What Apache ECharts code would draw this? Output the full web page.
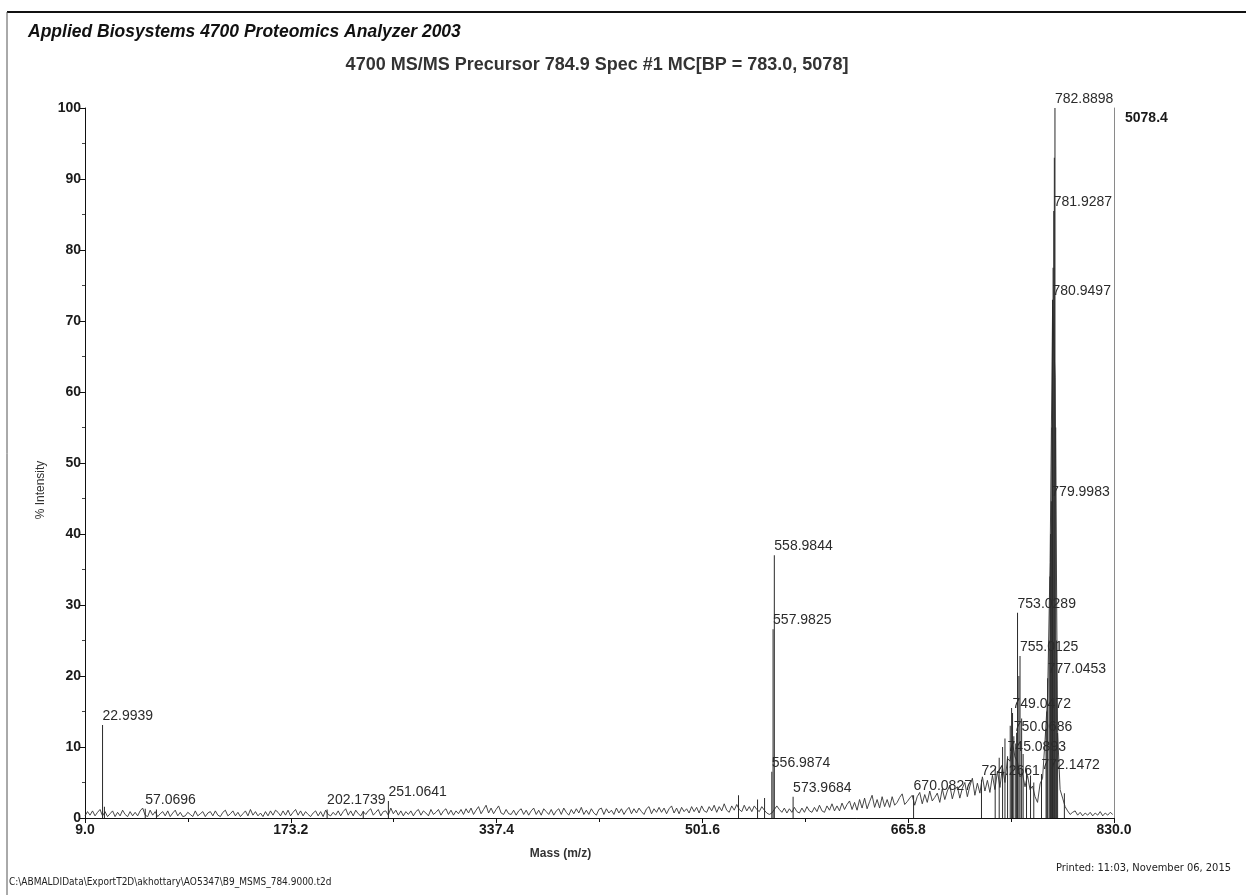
<!DOCTYPE html>
<html>
<head>
<meta charset="utf-8">
<title>4700 MS/MS Precursor 784.9</title>
<script src="https://cdn.jsdelivr.net/npm/echarts@6/dist/echarts.min.js"></script>
<style>
  html, body { margin: 0; padding: 0; background: #fff; }
  #chart { width: 1246px; height: 895px; }
</style>
</head>
<body>
<div id="chart"></div>
<script>
// Labelled peaks: m/z and % intensity
const peakMz  = [22.9939, 57.0696, 202.1739, 251.0641, 556.9874, 557.9825, 558.9844, 573.9684,
                 670.0827, 724.2661, 745.0893, 749.0472, 750.0686, 753.0289, 755.0125, 772.1472,
                 777.0453, 779.9983, 780.9497, 781.9287, 782.8898];
const peakPct = [13.1, 1.3, 1.2, 2.4, 6.5, 26.6, 37.0, 3.0,
                 3.2, 5.4, 8.7, 14.8, 11.5, 28.9, 22.8, 6.2,
                 19.7, 44.6, 73.0, 85.5, 100.0];

// Unlabelled sticks around the precursor cluster
const minorMz  = [24.5, 66.0, 231.0, 530.4, 545.6, 551.2, 735.2, 738.4, 741.1, 743.0, 747.2, 748.3,
                  751.6, 752.3, 754.1, 756.3, 757.5, 760.2, 763.4, 766.0, 775.8, 776.4, 778.2,
                  778.9, 779.4, 780.4, 781.4, 782.4, 783.5, 784.2, 785.0, 790.4];
const minorPct = [1.6, 1.2, 1.0, 3.2, 2.6, 2.8, 7.0, 8.5, 10.0, 11.2, 13.0, 15.5,
                  10.5, 12.0, 20.0, 14.0, 9.0, 7.0, 6.0, 5.0, 12.5, 15.0, 25.0,
                  34.0, 40.0, 55.0, 77.5, 93.0, 55.0, 25.0, 12.0, 3.5];

// Continuous trace: % intensity sampled every 2 m/z from 9
const traceStart = 9;
const traceStep = 2;
const tracePct = [
  0.3,0.9,0.4,1.0,0.3,0.8,1.2,0.3,0.9,0.2,
  0.6,1.0,0.2,0.8,0.3,1.1,0.5,0.2,0.9,0.3,
  0.8,0.3,1.0,1.4,0.4,0.2,1.1,0.4,0.9,0.2,
  0.6,0.9,0.3,1.0,0.2,0.7,1.1,0.3,0.8,0.2,
  0.3,0.8,0.5,0.2,1.0,0.3,0.6,0.9,0.2,0.7,
  0.9,0.3,1.0,0.4,0.2,0.8,1.1,0.3,0.6,1.0,
  0.3,0.8,0.2,0.6,1.0,0.3,1.2,0.4,0.9,0.3,
  0.7,0.2,0.9,0.3,1.0,0.4,1.1,0.8,0.3,1.0,
  0.4,1.1,0.3,0.8,1.2,0.4,1.0,0.3,0.9,0.5,
  0.2,0.7,1.0,0.3,0.9,0.2,1.1,0.5,0.3,0.8,
  0.4,1.0,0.3,0.9,1.3,0.4,1.0,0.3,1.1,0.6,
  0.3,0.9,0.5,1.0,1.3,0.4,0.8,1.2,0.3,0.9,
  1.0,0.4,1.4,0.6,1.1,0.4,1.0,0.3,0.9,0.5,
  1.0,0.3,0.9,1.2,0.4,1.0,0.7,0.3,1.2,0.5,
  0.8,1.2,0.4,1.0,1.3,0.5,1.1,0.4,1.0,0.6,
  1.2,0.5,1.3,0.7,1.4,0.5,1.1,1.6,0.6,1.2,
  1.8,0.7,1.4,0.6,1.2,1.7,0.7,0.5,1.2,0.6,
  0.5,1.1,0.4,1.0,1.3,0.5,1.1,0.4,1.0,1.4,
  0.5,1.1,0.4,1.3,0.9,0.5,1.2,0.4,1.0,1.3,
  0.5,1.4,0.8,0.4,1.2,0.6,1.3,0.7,1.5,0.5,
  1.1,0.5,1.3,0.7,0.4,1.2,1.4,0.5,1.3,0.7,
  1.1,0.5,1.4,0.7,1.3,0.5,1.1,1.5,0.6,1.3,
  0.7,1.4,0.9,0.5,1.3,1.6,0.6,1.3,0.8,1.5,
  0.8,1.4,0.6,1.3,1.7,0.7,1.4,0.6,1.5,0.9,
  1.3,0.7,1.6,0.9,1.5,0.7,1.7,1.0,0.8,1.6,
  1.0,1.8,0.8,1.6,1.0,2.0,1.1,0.8,1.7,1.1,
  1.9,1.2,0.9,1.8,1.0,1.6,0.9,1.7,1.2,0.9,
  1.6,1.1,0.7,0.5,0.7,1.2,1.7,1.2,0.8,1.4,
  0.7,1.3,0.8,1.5,0.9,0.7,1.4,0.8,1.6,1.0,
  0.8,1.5,0.9,1.8,1.0,0.8,1.7,1.1,2.0,1.0,
  1.7,1.0,2.1,1.2,1.9,2.4,1.2,2.2,1.1,2.6,
  1.4,2.8,1.3,2.3,3.2,1.5,2.6,1.4,3.0,1.6,
  2.6,1.5,3.0,1.8,2.2,2.9,3.4,1.9,2.3,2.8,
  3.2,1.8,3.0,3.6,2.0,3.3,2.2,3.8,2.4,2.9,
  3.5,2.2,4.1,2.6,3.8,4.6,2.7,4.0,4.4,2.8,
  4.2,5.0,3.0,4.5,5.6,3.2,4.9,3.5,5.8,3.8,
  5.3,3.6,6.0,4.0,6.6,4.3,7.2,5.0,8.4,8.0,
  10.5,8.6,7.9,5.8,6.2,4.4,6.0,4.0,4.5,3.0,
  2.2,4.8,5.6,11.0,17.0,36.0,72.0,62.0,12.0,4.0,
  2.8,1.6,1.0,0.5,0.8,1.0,0.4,0.8,0.3,0.7,
  0.4,0.8,0.3,0.7,0.4,0.9,0.3,0.7,0.4,0.8,
  0.5
];

const massMin = 9.0;
const massMax = 830.0;
const massTickStep = 164.2;
const basePeakCounts = 5078.4;

const chart = echarts.init(document.getElementById('chart'), null, { renderer: 'canvas' });

const FONT = '"Liberation Sans", Arial, Helvetica, sans-serif';
const NARROW = '"Liberation Sans Narrow", "DejaVu Sans Condensed", "Liberation Sans", sans-serif';
const INK = '#1a1a1a';

const traceData = tracePct.map((v, i) => [traceStart + i * traceStep, v]);

const stickData = [];
minorMz.forEach((mz, i) => stickData.push({ value: [mz, minorPct[i]] }));
peakMz.forEach((mz, i) => stickData.push({
  value: [mz, peakPct[i]],
  label: { show: true }
}));

chart.setOption({
  animation: false,
  backgroundColor: '#ffffff',
  grid: { left: 85, right: 132, top: 108, bottom: 77, containLabel: false },
  xAxis: {
    type: 'value',
    min: massMin,
    max: massMax,
    interval: massTickStep,
    name: 'Mass (m/z)',
    nameLocation: 'middle',
    nameGap: 30,
    nameTextStyle: { fontFamily: FONT, fontSize: 12, fontWeight: 'bold', color: '#333', padding: [0, 78, 0, 0] },
    axisLine: { show: true, onZero: false, lineStyle: { color: '#111', width: 1 } },
    axisTick: { show: true, inside: false, length: 5, lineStyle: { color: '#111' } },
    minorTick: { show: true, splitNumber: 2, length: 4, lineStyle: { color: '#111' } },
    splitLine: { show: false },
    axisLabel: {
      fontFamily: FONT, fontSize: 14, fontWeight: 'bold', color: INK, margin: 5,
      showMinLabel: true, showMaxLabel: true,
      formatter: v => v.toFixed(1)
    }
  },
  yAxis: [
    {
      type: 'value',
      min: 0,
      max: 100,
      interval: 10,
      name: '% Intensity',
      nameLocation: 'middle',
      nameGap: 30,
      nameRotate: 90,
      nameTextStyle: { fontFamily: FONT, fontSize: 12, color: '#333', padding: [0, 54, 0, 0] },
      axisLine: { show: true, lineStyle: { color: '#111', width: 1 } },
      axisTick: { show: true, length: 5, lineStyle: { color: '#111' } },
      minorTick: { show: true, splitNumber: 2, length: 3, lineStyle: { color: '#444' } },
      splitLine: { show: false },
      axisLabel: { fontFamily: FONT, fontSize: 14, fontWeight: 'bold', color: INK, margin: 4 }
    },
    {
      type: 'value',
      position: 'right',
      min: 0,
      max: basePeakCounts,
      interval: basePeakCounts,
      axisLine: { show: true, lineStyle: { color: '#8a8a8a', width: 1 } },
      axisTick: { show: false },
      splitLine: { show: false },
      axisLabel: {
        fontFamily: FONT, fontSize: 14, fontWeight: 'bold', color: INK, margin: 11,
        verticalAlign: 'top', padding: [3, 0, 0, 0],
        formatter: v => (v === basePeakCounts ? basePeakCounts.toFixed(1) : '')
      }
    }
  ],
  series: [
    {
      name: 'trace',
      type: 'line',
      data: traceData,
      showSymbol: false,
      symbol: 'none',
      lineStyle: { color: '#333', width: 0.9 },
      z: 2
    },
    {
      name: 'peaks',
      type: 'bar',
      data: stickData,
      barWidth: 1,
      itemStyle: { color: '#2a2a2a' },
      label: {
        show: false,
        position: 'top',
        align: 'left',
        distance: 2,
        fontFamily: FONT,
        fontSize: 14,
        color: '#2b2b2b',
        formatter: p => p.value[0].toFixed(4)
      },
      z: 3
    }
  ],
  graphic: [
    { type: 'line', shape: { x1: 7, y1: 12, x2: 1246, y2: 12 }, style: { stroke: '#111', lineWidth: 2 } },
    { type: 'line', shape: { x1: 7, y1: 12, x2: 7, y2: 895 }, style: { stroke: '#555', lineWidth: 1 } },
    {
      type: 'text', left: 28, top: 23,
      style: { text: 'Applied Biosystems 4700 Proteomics Analyzer 2003', fontFamily: FONT,
               fontSize: 17.5, fontWeight: 'bold', fontStyle: 'italic', fill: '#111' }
    },
    {
      type: 'text', x: 597, y: 65,
      style: { text: '4700 MS/MS Precursor 784.9 Spec #1 MC[BP = 783.0, 5078]', fontFamily: FONT,
               fontSize: 18, fontWeight: 'bold', fill: '#333', align: 'center', verticalAlign: 'middle' }
    },
    {
      type: 'text', x: 9, y: 882,
      style: { text: 'C:\\ABMALDIData\\ExportT2D\\akhottary\\AO5347\\B9_MSMS_784.9000.t2d', fontFamily: NARROW,
               fontSize: 10, fill: '#222', verticalAlign: 'middle' }
    },
    {
      type: 'text', x: 1231, y: 868,
      style: { text: 'Printed: 11:03, November 06, 2015', fontFamily: NARROW,
               fontSize: 11, fill: '#222', align: 'right', verticalAlign: 'middle' }
    }
  ]
});
</script>
</body>
</html>
